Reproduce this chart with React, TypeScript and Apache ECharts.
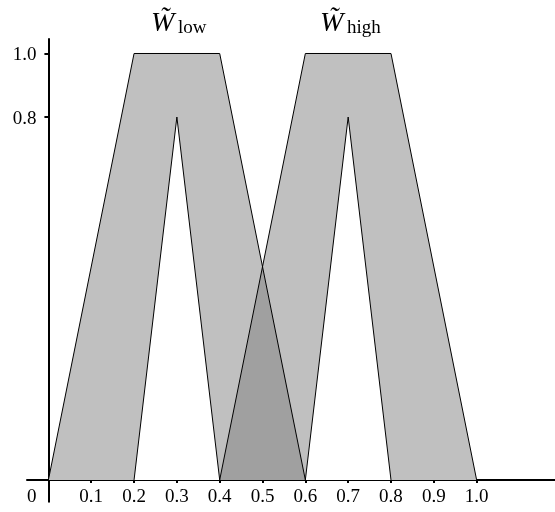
import React, { useEffect, useRef } from "react";
import * as echarts from "echarts";

// x-axis tick values and labels
const X_TICKS = [0.1, 0.2, 0.3, 0.4, 0.5, 0.6, 0.7, 0.8, 0.9, 1.0];
// membership levels shown on the y-axis and where the (schematic) picture draws them
const Y_LEVELS = [0, 0.8, 1.0];
const Y_LEVEL_POS = [0, 0.851, 1.0];
const Y_TICK_LABELS = ["0.8", "1.0"];

// interval type-2 fuzzy sets: upper and lower membership functions
const LOW_UMF = [[0, 0], [0.2, 1.0], [0.4, 1.0], [0.6, 0]];
const LOW_LMF = [[0.2, 0], [0.3, 0.8], [0.4, 0]];
const HIGH_UMF = [[0.4, 0], [0.6, 1.0], [0.8, 1.0], [1.0, 0]];
const HIGH_LMF = [[0.6, 0], [0.7, 0.8], [0.8, 0]];

const SET_NAMES = ["low", "high"];

const X_MIN = -0.05;
const X_MAX = 1.183;
const Y_MIN = -0.051;
const Y_MAX = 1.034;

const posOf = (v: number) => {
  const i = Y_LEVELS.indexOf(v);
  return i >= 0 ? Y_LEVEL_POS[i] : v;
};
const toPlot = (pts: number[][]) => pts.map((p) => [p[0], posOf(p[1])]);

function intersect(a: number[], b: number[], c: number[], d: number[]) {
  const x1 = a[0], y1 = a[1], x2 = b[0], y2 = b[1];
  const x3 = c[0], y3 = c[1], x4 = d[0], y4 = d[1];
  const den = (x1 - x2) * (y3 - y4) - (y1 - y2) * (x3 - x4);
  const t = ((x1 - x3) * (y3 - y4) - (y1 - y3) * (x3 - x4)) / den;
  return [x1 + t * (x2 - x1), y1 + t * (y2 - y1)];
}

export default function App() {
  const ref = useRef<HTMLDivElement>(null);
  useEffect(() => {
    if (!ref.current) return;
    const chart = echarts.init(ref.current, undefined, { renderer: "svg" });

    const W = 555, H = 512;
    const G = { left: 27, right: 0, top: 39, bottom: 10.3 };
    const gw = W - G.left - G.right;
    const gh = H - G.top - G.bottom;
    // shift the axes so that they cross at the origin (0, 0)
    const xOffset = -(-Y_MIN / (Y_MAX - Y_MIN)) * gh;
    const yOffset = -(-X_MIN / (X_MAX - X_MIN)) * gw;

    const lu = toPlot(LOW_UMF);
    const ll = toPlot(LOW_LMF);
    const hu = toPlot(HIGH_UMF);
    const hl = toPlot(HIGH_LMF);
    const cross = intersect(lu[2], lu[3], hu[0], hu[1]);
    const overlap = [hu[0], cross, lu[3]];

    const LIGHT = "#c0c0c0";
    const DARK = "#a0a0a0";
    const layers: { pts: number[][]; kind: "polygon" | "polyline"; fill?: string }[] = [
      { pts: lu, kind: "polygon", fill: LIGHT },
      { pts: hu, kind: "polygon", fill: LIGHT },
      { pts: overlap, kind: "polygon", fill: DARK },
      { pts: ll, kind: "polygon", fill: "#ffffff" },
      { pts: hl, kind: "polygon", fill: "#ffffff" },
      { pts: lu, kind: "polyline" },
      { pts: hu, kind: "polyline" },
      { pts: ll, kind: "polyline" },
      { pts: hl, kind: "polyline" },
    ];

    const serif = "Liberation Serif";
    const title = (name: string, x: number) => [
      {
        type: "text",
        left: x,
        top: 7,
        style: { text: "W\u0303", font: `italic 28px "${serif}"`, fill: "#000" },
      },
      {
        type: "text",
        left: x + 27,
        top: 17,
        style: { text: name, font: `19px "${serif}"`, fill: "#000" },
      },
    ];

    chart.setOption({
      animation: false,
      grid: { ...G, outerBoundsMode: "none" },
      xAxis: {
        type: "value",
        min: X_MIN,
        max: X_MAX,
        offset: xOffset,
        splitLine: { show: false },
        axisLine: { onZero: false, lineStyle: { color: "#000", width: 2 } },
        axisTick: {
          show: true,
          customValues: X_TICKS,
          length: 3,
          lineStyle: { color: "#000", width: 2 },
        },
        axisLabel: {
          customValues: X_TICKS,
          formatter: (v: number) => v.toFixed(1),
          color: "#000",
          fontFamily: serif,
          fontSize: 19,
          margin: 6,
        },
      },
      yAxis: {
        type: "value",
        min: Y_MIN,
        max: Y_MAX,
        offset: yOffset,
        splitLine: { show: false },
        axisLine: { show: true, onZero: false, lineStyle: { color: "#000", width: 2 } },
        axisTick: {
          show: true,
          customValues: Y_LEVEL_POS.slice(1),
          length: 4,
          lineStyle: { color: "#000", width: 2 },
        },
        axisLabel: {
          customValues: Y_LEVEL_POS.slice(1),
          formatter: (v: number) => {
            const i = Y_LEVEL_POS.indexOf(v);
            return i > 0 ? Y_TICK_LABELS[i - 1] : "";
          },
          color: "#000",
          fontFamily: serif,
          fontSize: 19,
          margin: 12,
        },
      },
      graphic: [
        {
          type: "text",
          left: 27,
          top: 486,
          style: { text: "0", font: `19px "${serif}"`, fill: "#000" },
        },
        ...title(SET_NAMES[0], 151),
        ...title(SET_NAMES[1], 320),
      ],
      series: [
        {
          type: "custom",
          clip: false,
          data: layers.map(() => [0, 0]),
          renderItem: (params: any, api: any) => {
            const layer = layers[params.dataIndex];
            const points = layer.pts.map((p) => api.coord(p));
            if (layer.kind === "polygon") {
              return {
                type: "polygon",
                shape: { points },
                style: { fill: layer.fill, stroke: "none" },
              };
            }
            return {
              type: "polyline",
              shape: { points },
              style: { fill: "none", stroke: "#000", lineWidth: 1 },
            };
          },
        },
      ],
    });
    return () => chart.dispose();
  }, []);
  return (
    <div
      ref={ref}
      style={{ position: "fixed", left: 0, top: 0, width: 555, height: 512 }}
    />
  );
}
